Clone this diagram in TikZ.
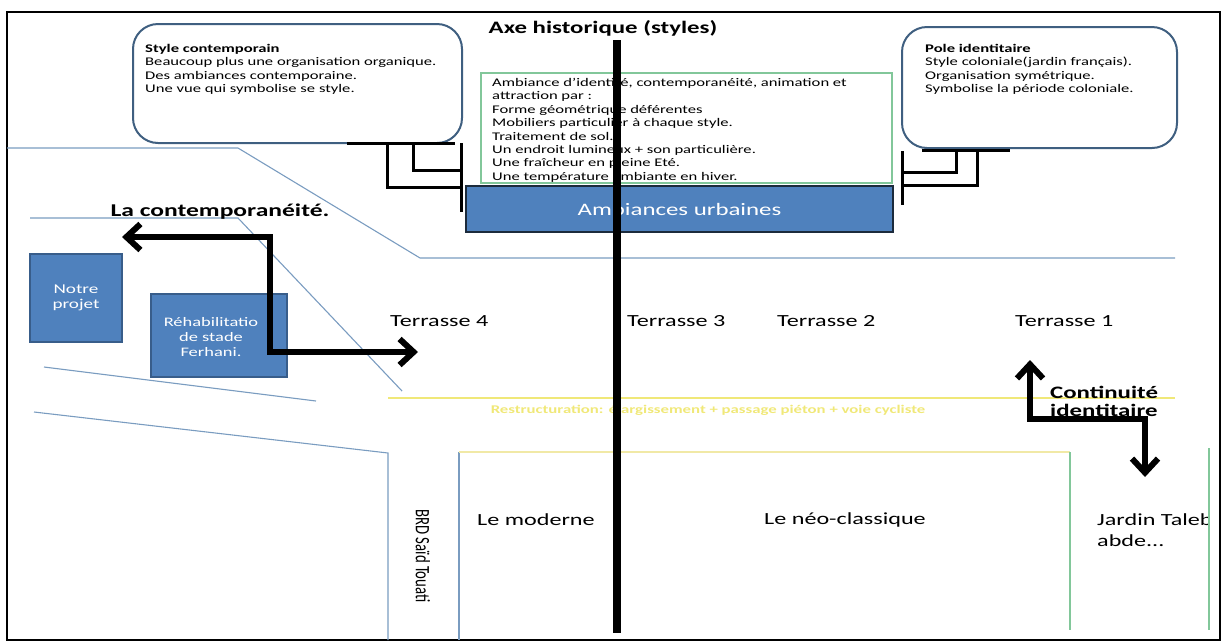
\documentclass[tikz,border=0pt]{standalone}
\usepackage{fontspec}
\setmainfont{Carlito}[FakeStretch=1.42]
\newfontfamily\roadfont{Carlito}[FakeStretch=0.72]
\usetikzlibrary{arrows.meta,positioning}
\definecolor{bubbleedge}{HTML}{3F5F80}
\definecolor{boxblue}{HTML}{4F81BD}
\definecolor{boxedge}{HTML}{385D8A}
\definecolor{darkedge}{HTML}{1C2B3C}
\definecolor{roadline}{HTML}{7A9CC0}
\definecolor{leafgreen}{HTML}{82C79A}
\definecolor{paleyellow}{HTML}{F0E878}
\definecolor{palegold}{HTML}{F1E9A6}

\begin{document}
\begin{tikzpicture}[x=1pt,y=-1pt,
  bubble/.style={draw=bubbleedge,line width=2pt,rounded corners=25pt,fill=white,inner sep=0},
  block/.style={draw=boxedge,fill=boxblue,line width=1.5pt,inner sep=0,text=white,align=center},
  small/.style={font=\fontsize{11.7}{13.4}\selectfont,align=left,inner sep=0,anchor=north west},
  heavy/.style={font=\bfseries\fontsize{18}{18}\selectfont,inner sep=0},
  terr/.style={font=\fontsize{17}{18}\selectfont,inner sep=0,anchor=west},
  road/.style={draw=roadline,line width=1.1pt},
  bracket/.style={draw=black,line width=3pt},
  bigarrow/.style={line width=6pt,{Straight Barb[length=14pt,width=26pt]}-{Straight Barb[length=14pt,width=26pt]}}]
\useasboundingbox (0,0) rectangle (1225,641);
\draw[line width=2pt] (7,12) rectangle (1220,640);
% site lines
\draw[road] (7,148) -- (238,148) -- (420,258) -- (1175,258);
\draw[road] (30,218) -- (238,218) -- (402,391);
\draw[road] (44,367) -- (316,401);
\draw[road] (34,412) -- (388,453) -- (388,640);
\draw[road] (459,452) -- (459,640);
\draw[draw=palegold,line width=1.5pt] (459,452) -- (1070,452);
\draw[draw=leafgreen,line width=1.2pt] (1070,452) -- (1070,630);
\draw[draw=leafgreen,line width=1.2pt] (1209,448) -- (1209,630);
\draw[draw=paleyellow,line width=2pt] (388,398) -- (1175,398);
\node[font=\bfseries\fontsize{11.8}{13}\selectfont,text=paleyellow,inner sep=0] (restruct) at (708,410) {Restructuration: élargissement + passage piéton + voie cycliste};
% bubbles
\node[bubble,minimum width=329pt,minimum height=119pt] (contemp) at (297.5,83.5) {};
\node[small] (contemptxt) at (145,44) {\textbf{Style contemporain}\\Beaucoup plus une organisation organique.\\Des ambiances contemporaine.\\Une vue qui symbolise se style.};
\node[bubble,minimum width=275pt,minimum height=121pt] (ident) at (1039.5,87.5) {};
\node[small] (identtxt) at (925,44) {\textbf{Pole identitaire}\\Style coloniale(jardin français).\\Organisation symétrique.\\Symbolise la période coloniale.};
\node[draw=leafgreen,line width=1.5pt,minimum width=411pt,minimum height=110pt,inner sep=0] (ambiance) at (686.5,128) {};
\node[small] (ambiancetxt) at (492,78) {Ambiance d’identité, contemporanéité, animation et\\attraction par :\\Forme géométrique déférentes\\Mobiliers particulier à chaque style.\\Traitement de sol.\\Un endroit lumineux + son particulière.\\Une fraîcheur en pleine Eté.\\Une température ambiante en hiver.};
\node[block,draw=darkedge,line width=2.5pt,minimum width=427pt,minimum height=46pt,font=\fontsize{17.5}{18}\selectfont] (urbain) at (679.5,209) {Ambiances urbaines};
% brackets
\draw[bracket] (347,143) -- (455,143);
\draw[bracket] (387,143) |- (461,187);
\draw[bracket] (413,143) |- (461,170);
\draw[bracket] (461,143) -- (461,212);
\draw[bracket] (922,150) -- (1010,150);
\draw[bracket] (956,150) |- (902,172);
\draw[bracket] (977,150) |- (902,185);
\draw[bracket] (902,151) -- (902,205);
% projects
\node[block,minimum width=92pt,minimum height=88pt,font=\fontsize{13.5}{15}\selectfont] (projet) at (76,298) {Notre\\projet};
\node[block,minimum width=136pt,minimum height=83pt] (rehab) at (219,335.5) {};
\node[text=white,align=center,inner sep=0,font=\fontsize{13}{15}\selectfont] (rehabtxt) at (211,337) {Réhabilitatio\\de stade\\Ferhani.};
% terraces
\node[terr] (t4) at (390,321) {Terrasse 4};
\node[terr] (t3) at (627,321) {Terrasse 3};
\node[terr] (t2) at (777,321) {Terrasse 2};
\node[terr] (t1) at (1015,321) {Terrasse 1};
\node[terr] (moderne) at (477,520) {Le moderne};
\node[terr] (neo) at (764,520) {Le néo-classique};
\begin{scope}
\clip (1090,495) rectangle (1207,560);
\node[terr,align=left,font=\fontsize{17}{21}\selectfont] (jardin) at (1097,530) {Jardin Taleb\\abde...};
\end{scope}
\node[font=\roadfont\fontsize{20.5}{22}\selectfont,rotate=-90,inner sep=0] (brd) at (423,556) {BRD Saïd Touati};
% arrows
\coordinate (contL) at (122,237);
\coordinate (contR) at (418,352);
\draw[bigarrow] (contL) -- (270,237) -- (270,352) -- (contR);
\node[heavy] (contlbl) at (220,212) {La contemporanéité.};
\coordinate (idUp) at (1030,360);
\coordinate (idDown) at (1145,477);
\draw[bigarrow] (idUp) -- (1030,419) -- (1145,419) -- (idDown);
\node[heavy,anchor=west,align=left,font=\bfseries\fontsize{17.5}{18}\selectfont] (idlbl) at (1050,401) {Continuité\\identitaire};
% axis
\node[heavy,font=\bfseries\fontsize{17.5}{18}\selectfont] (axe) at (603,28) {Axe historique (styles)};
\coordinate (axtop) at (617,40);
\coordinate (axbot) at (617,633);
\draw[line width=8pt] (axtop) -- (axbot);
\end{tikzpicture}
\end{document}
